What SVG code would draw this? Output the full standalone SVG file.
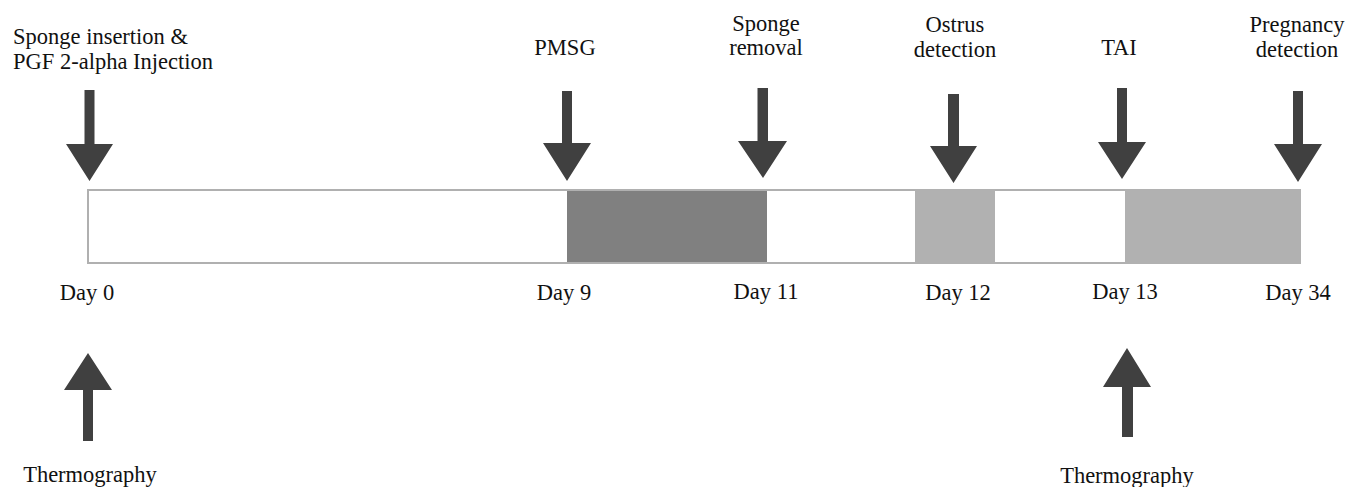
<svg xmlns="http://www.w3.org/2000/svg" width="1360" height="487" viewBox="0 0 1360 487">
<style>
text{font-family:"Liberation Serif","Times New Roman",serif;font-size:22.5px;fill:#111;text-anchor:middle}
text.l{text-anchor:start}
.arr{fill:#404040}
.dark{fill:#808080}
.light{fill:#b1b1b1}
</style>
<rect width="1360" height="487" fill="#fff"/>
<g id="timeline-bar">
<rect x="88" y="190" width="1212" height="73" fill="#fff" stroke="#b0b0b0" stroke-width="2"/>
<rect class="dark" x="567" y="191" width="200" height="71"/>
<rect class="light" x="915" y="189" width="80" height="75"/>
<rect class="light" x="1125" y="189" width="176" height="75"/>
</g>
<g id="ev-sponge-insertion">
<text class="l" x="13" y="44">Sponge insertion &amp;</text>
<text class="l" x="13" y="69">PGF 2-alpha Injection</text>
<text x="87" y="300">Day 0</text>
</g>
<g id="ev-pmsg">
<text x="565" y="55">PMSG</text>
<text x="564" y="300">Day 9</text>
</g>
<g id="ev-sponge-removal">
<text x="766" y="31">Sponge</text>
<text x="766" y="55">removal</text>
<text x="766" y="299">Day 11</text>
</g>
<g id="ev-ostrus">
<text x="955" y="32">Ostrus</text>
<text x="955" y="57">detection</text>
<text x="958" y="300">Day 12</text>
</g>
<g id="ev-tai">
<text x="1119" y="55">TAI</text>
<text x="1125" y="299">Day 13</text>
</g>
<g id="ev-pregnancy">
<text x="1297" y="32">Pregnancy</text>
<text x="1297" y="57">detection</text>
<text x="1298" y="300">Day 34</text>
</g>
<g id="thermo-0">
<text x="90" y="482">Thermography</text>
</g>
<g id="thermo-13">
<text x="1127" y="483">Thermography</text>
</g>
<g id="connectors">
<polygon class="arr" points="84.5,90 94.5,90 94.5,144 113,144 89.5,181 66,144 84.5,144"/>
<polygon class="arr" points="562,91 572,91 572,143 591,143 567,181 543,143 562,143"/>
<polygon class="arr" points="757.5,88 768,88 768,141 787,141 763,178 738,141 757.5,141"/>
<polygon class="arr" points="948,94 959,94 959,146 977,146 953.5,183 930,146 948,146"/>
<polygon class="arr" points="1117,88 1127,88 1127,142 1146,142 1122,179 1098,142 1117,142"/>
<polygon class="arr" points="1293,91 1303,91 1303,144 1322,144 1298,182 1274,144 1293,144"/>
<polygon class="arr" points="83,441 93,441 93,390 112,390 88,353 64,390 83,390"/>
<polygon class="arr" points="1122,437 1133,437 1133,387 1151,387 1127,348 1103,387 1122,387"/>
</g>
</svg>
